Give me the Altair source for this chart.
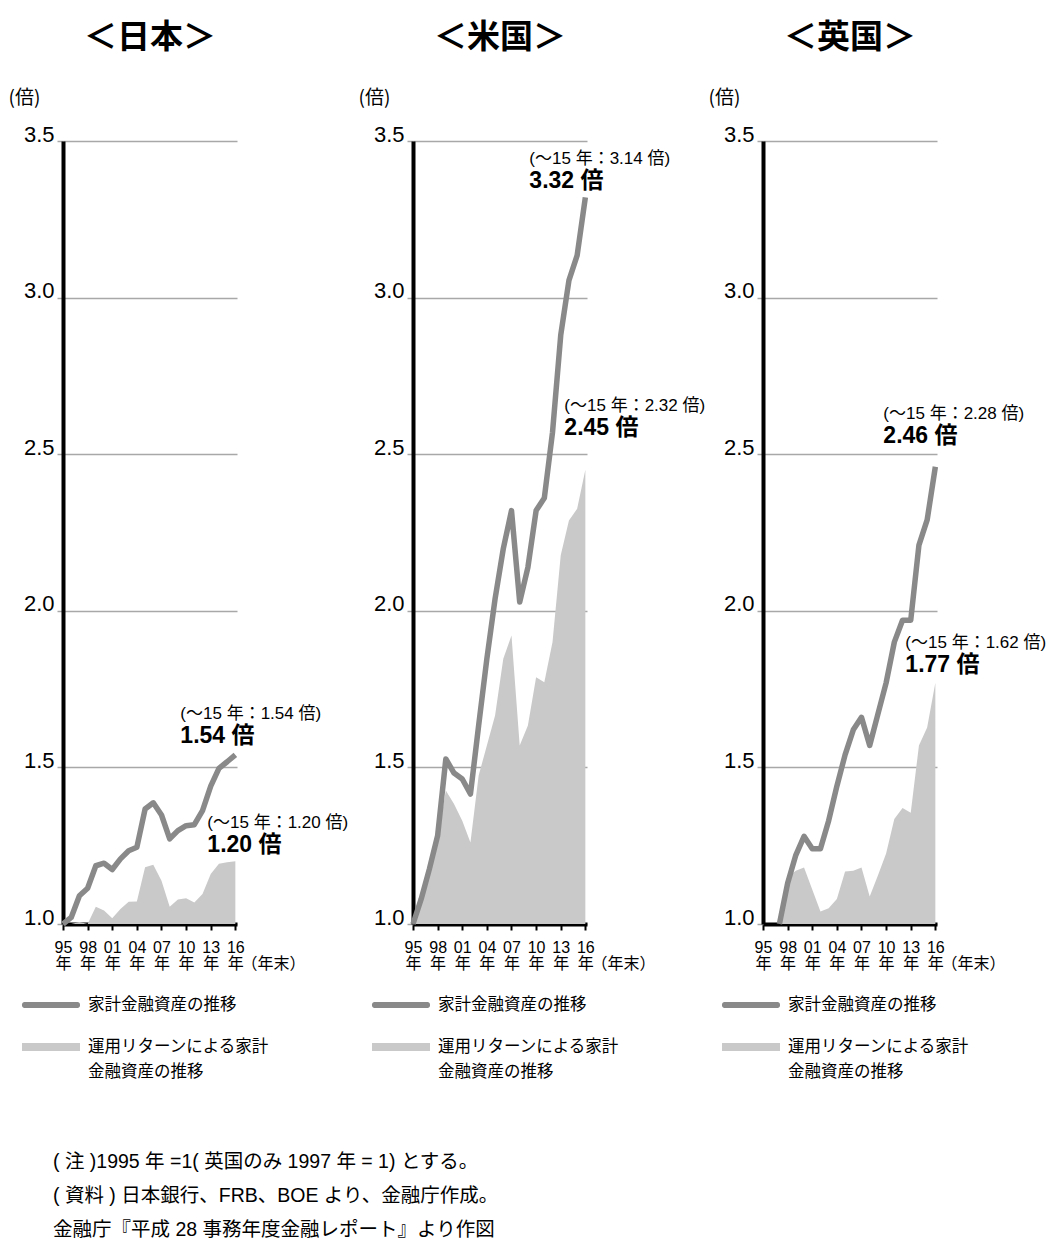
import altair as alt
import pandas as pd

# ---------------- data ----------------
years_jp = list(range(1995, 2017))
jp_total = [1.00, 1.021, 1.09, 1.114, 1.186, 1.194, 1.174, 1.208, 1.234, 1.245, 1.367,
            1.387, 1.348, 1.272, 1.298, 1.314, 1.317, 1.362, 1.44, 1.497, 1.518, 1.54]
jp_return = [1.00, 1.0, 1.006, 1.0, 1.055, 1.043, 1.018, 1.048, 1.071, 1.072, 1.181,
             1.189, 1.138, 1.055, 1.078, 1.082, 1.069, 1.096, 1.16, 1.192, 1.197, 1.20]

years_us = list(range(1995, 2017))
us_total = [1.00, 1.08, 1.176, 1.282, 1.527, 1.482, 1.463, 1.415, 1.634, 1.847, 2.038,
            2.198, 2.32, 2.028, 2.139, 2.32, 2.36, 2.57, 2.88, 3.055, 3.135, 3.32]
us_return = [1.00, 1.065, 1.16, 1.27, 1.426, 1.383, 1.33, 1.26, 1.474, 1.57, 1.666,
             1.847, 1.921, 1.57, 1.634, 1.788, 1.772, 1.9, 2.177, 2.288, 2.326, 2.45]

years_uk = list(range(1997, 2017))
uk_total = [1.0, 1.13, 1.22, 1.28, 1.24, 1.24, 1.33, 1.44, 1.54, 1.62, 1.66, 1.57,
            1.67, 1.77, 1.90, 1.97, 1.97, 2.21, 2.29, 2.46]
uk_return = [1.0, 1.15, 1.17, 1.18, 1.11, 1.04, 1.05, 1.08, 1.168, 1.17, 1.18, 1.088,
             1.155, 1.225, 1.335, 1.37, 1.355, 1.57, 1.627, 1.77]

# values up to 2015 quoted in the annotations (total, return)
until15_jp = [1.54, 1.20]
until15_us = [3.14, 2.32]
until15_uk = [2.28, 1.62]

titles = ["＜日本＞", "＜米国＞", "＜英国＞"]
x_tick_years = [1995, 1998, 2001, 2004, 2007, 2010, 2013, 2016]
y_ticks = [1.0, 1.5, 2.0, 2.5, 3.0, 3.5]
legend_line_label = ["家計金融資産の推移"]
legend_area_label = ["運用リターンによる家計\n金融資産の推移"]
notes = ["( 注 )1995 年 =1( 英国のみ 1997 年 = 1) とする。",
         "( 資料 ) 日本銀行、FRB、BOE より、金融庁作成。",
         "金融庁『平成 28 事務年度金融レポート』より作図"]

# ---------------- style ----------------
FONT = "'Liberation Sans', 'Noto Sans CJK JP', sans-serif"
JFONT = "'Noto Sans CJK JP', sans-serif"
LINE = "#898989"
AREA = "#c9c9c9"
GRID = "#a8a8a8"
W, H = 174, 783

xscale = alt.Scale(domain=[1995, 2016.2], nice=False, zero=False)
yscale = alt.Scale(domain=[1.0, 3.5], nice=False, zero=False)

xaxis = alt.Axis(values=x_tick_years, grid=False,
                 labelExpr="[format(datum.value % 100, '02d'), '年']",
                 labelFont=FONT, labelFontSize=16, labelColor="black",
                 labelLineHeight=16, labelBaseline="top", labelPadding=9,
                 labelFlush=False, labelOverlap=False,
                 domainColor="black", domainWidth=4,
                 tickColor="black", tickWidth=2, tickSize=6,
                 title="（年末）", titleFont=JFONT, titleFontSize=16,
                 titleFontWeight="normal", titleColor="black",
                 titleX=178, titleY=39, titleAlign="left", titleBaseline="middle")

yaxis = alt.Axis(values=y_ticks, format=".1f", grid=True, gridColor=GRID, gridWidth=1.5,
                 labelFont=FONT, labelFontSize=22, labelColor="black",
                 labelBaseline="alphabetic", labelPadding=3, labelFlush=False,
                 labelOverlap=False,
                 domainColor="black", domainWidth=4,
                 tickColor=GRID, tickWidth=1.5, tickSize=6,
                 title="(倍)", titleFont=JFONT, titleFontSize=19,
                 titleFontWeight="normal", titleColor="black", titleAngle=0,
                 titleX=-55, titleY=-44, titleAlign="left", titleBaseline="middle")


def X(field):
    return alt.X(field, type="quantitative", scale=xscale, axis=xaxis)


def Y(field):
    return alt.Y(field, type="quantitative", scale=yscale, axis=yaxis)


def annotation(year, value, text, dx, dy, size, weight):
    d = pd.DataFrame({"year": [year], "v": [value], "label": [text]})
    return alt.Chart(d).mark_text(align="left", baseline="middle", dx=dx, dy=dy,
                                  fontSize=size, fontWeight=weight, font=FONT,
                                  color="black").encode(x=X("year"), y=Y("v"), text="label:N")


def panel(title, years, total, ret, until15, offs):
    df = pd.DataFrame({"year": years, "total": total, "ret": ret})
    base = alt.Chart(df)
    area = base.mark_area(color=AREA).encode(x=X("year"), y=Y("ret"), y2=alt.Y2Datum(1.0))
    line = base.mark_line(color=LINE, strokeWidth=5.5, strokeJoin="round").encode(
        x=X("year"), y=Y("total"))
    (ldx, ldy), (adx, ady) = offs
    ly = years[-1]
    anns = [
        annotation(ly, total[-1], f"(～15 年：{until15[0]:.2f} 倍)", ldx, ldy - 22, 17, "normal"),
        annotation(ly, total[-1], f"{total[-1]:.2f} 倍", ldx, ldy, 23, "bold"),
        annotation(ly, ret[-1], f"(～15 年：{until15[1]:.2f} 倍)", adx, ady - 22, 17, "normal"),
        annotation(ly, ret[-1], f"{ret[-1]:.2f} 倍", adx, ady, 23, "bold"),
    ]
    lg1 = pd.DataFrame({"label": legend_line_label})
    lg2 = pd.DataFrame({"label": legend_area_label})
    leg = [
        alt.Chart(lg1).mark_rect(color=LINE, cornerRadius=2.5).encode(
            x=alt.value(-41), x2=alt.value(17), y=alt.value(861), y2=alt.value(867)),
        alt.Chart(lg1).mark_text(align="left", baseline="middle", fontSize=16.5, font=JFONT,
                                 color="black").encode(
            x=alt.value(25), y=alt.value(864), text="label:N"),
        alt.Chart(lg2).mark_rect(color=AREA).encode(
            x=alt.value(-41), x2=alt.value(17), y=alt.value(902), y2=alt.value(910)),
        alt.Chart(lg2).mark_text(align="left", baseline="middle", fontSize=16.5, font=JFONT,
                                 color="black", lineBreak="\n", lineHeight=25).encode(
            x=alt.value(25), y=alt.value(906), text="label:N"),
    ]
    return alt.layer(area, line, *anns, *leg).properties(
        width=W, height=H,
        title=alt.TitleParams(text=title, font=JFONT, fontSize=33, fontWeight="bold",
                              color="black", anchor="middle", frame="group", offset=33))


p1 = panel(titles[0], years_jp, jp_total, jp_return, until15_jp, [(-55, -19), (-28, -16)])
p2 = panel(titles[1], years_us, us_total, us_return, until15_us, [(-56, -16), (-21, -42)])
p3 = panel(titles[2], years_uk, uk_total, uk_return, until15_uk, [(-52, -31), (-30, -18)])

chart = alt.hconcat(p1, p2, p3, spacing=350 - W, bounds="flush").properties(
    padding={"left": 0, "top": 14, "right": 0, "bottom": 0},
    background="white",
    title=alt.TitleParams(text=notes, orient="bottom", anchor="start", dx=45,
                          font=FONT, fontSize=19.5, fontWeight="normal", color="black",
                          lineHeight=34, offset=72, frame="bounds"),
).configure_view(stroke=None)

chart.save("out.html", embed_options={"renderer": "svg", "actions": False})
